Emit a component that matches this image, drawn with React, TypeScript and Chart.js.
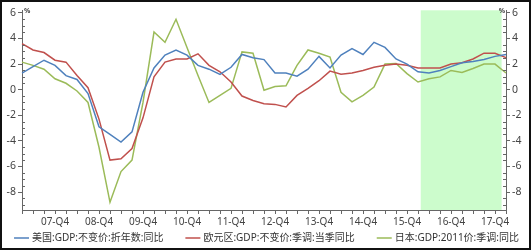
import React, { useEffect, useRef } from 'react';
import { Chart, registerables } from 'chart.js';

Chart.register(...registerables);

const QUARTERS = [
  '07-Q1', '07-Q2', '07-Q3', '07-Q4',
  '08-Q1', '08-Q2', '08-Q3', '08-Q4',
  '09-Q1', '09-Q2', '09-Q3', '09-Q4',
  '10-Q1', '10-Q2', '10-Q3', '10-Q4',
  '11-Q1', '11-Q2', '11-Q3', '11-Q4',
  '12-Q1', '12-Q2', '12-Q3', '12-Q4',
  '13-Q1', '13-Q2', '13-Q3', '13-Q4',
  '14-Q1', '14-Q2', '14-Q3', '14-Q4',
  '15-Q1', '15-Q2', '15-Q3', '15-Q4',
  '16-Q1', '16-Q2', '16-Q3', '16-Q4',
  '17-Q1', '17-Q2', '17-Q3', '17-Q4',
  '18-Q1',
];

const US_GDP = [
  1.3, 1.8, 2.3, 1.9, 1.1, 0.8, -0.3, -2.9, -3.5, -4.1, -3.3, -0.2,
  1.7, 2.7, 3.1, 2.7, 1.9, 1.6, 1.2, 1.75, 2.75, 2.5, 2.35, 1.3,
  1.3, 1.05, 1.6, 2.6, 1.7, 2.7, 3.2, 2.75, 3.7, 3.3, 2.4, 2.0,
  1.4, 1.3, 1.5, 1.8, 2.1, 2.2, 2.35, 2.6, 2.75,
];

const EURO_GDP = [
  3.6, 3.1, 2.9, 2.3, 2.15, 1.1, 0.15, -2.3, -5.5, -5.4, -4.6, -2.2,
  1.0, 2.15, 2.4, 2.4, 2.8, 1.9, 1.4, 0.6, -0.5, -0.85, -1.1, -1.15,
  -1.35, -0.45, 0.1, 0.7, 1.45, 1.2, 1.3, 1.5, 1.75, 1.9, 2.0, 1.9,
  1.7, 1.7, 1.7, 2.0, 2.1, 2.4, 2.85, 2.85, 2.5,
];

const JAPAN_GDP = [
  2.15, 1.9, 1.6, 0.85, 0.5, -0.1, -1.0, -4.5, -8.8, -6.4, -5.5, -1.0,
  4.5, 3.7, 5.5, 3.3, 1.1, -1.0, -0.45, 0.1, 2.95, 2.85, -0.05, 0.25,
  0.3, 1.9, 3.1, 2.85, 2.55, -0.2, -0.95, -0.45, 0.2, 2.0, 2.05, 1.25,
  0.6, 0.85, 1.0, 1.5, 1.35, 1.65, 2.0, 2.0, 1.3,
];

const SERIES_NAMES = [
  '美国:GDP:不变价:折年数:同比',
  '欧元区:GDP:不变价:季调:当季同比',
  '日本:GDP:2011价:季调:同比',
];
const SERIES_COLORS = ['#4f81bd', '#c0504d', '#9bbb59'];

const Y_MAJOR_TICKS = [-8, -6, -4, -2, 0, 2, 4, 6];
const Y_MINOR_TICKS = [
  -9, -8.5, -7.5, -7, -6.5, -5.5, -5, -4.5, -3.5, -3, -2.5, -1.5, -1, -0.5,
  0.5, 1, 1.5, 2.5, 3, 3.5, 4.5, 5, 5.5,
];
const Y_MIN = -9.4;
const Y_MAX = 6.2;
const SHADE_FROM = 36.25;
const SHADE_TO = 43.6;
const UNIT = '%';

const FONT = "'Noto Sans', 'Noto Sans CJK SC', 'DejaVu Sans', sans-serif";
const AXIS_COLOR = '#666';
const TEXT_COLOR = '#444';

const shadePlugin = {
  id: 'shade',
  beforeDatasetsDraw(chart: any) {
    const { ctx, chartArea, scales } = chart;
    const x1 = scales.x.getPixelForValue(SHADE_FROM);
    const x2 = scales.x.getPixelForValue(SHADE_TO);
    ctx.save();
    ctx.fillStyle = '#ccfccc';
    ctx.fillRect(x1, chartArea.top, x2 - x1, chartArea.bottom - chartArea.top);
    ctx.restore();
  },
};

const decorPlugin = {
  id: 'decor',
  afterDraw(chart: any) {
    const { ctx, chartArea, scales } = chart;
    ctx.save();
    // minor ticks inside axes
    ctx.strokeStyle = AXIS_COLOR;
    ctx.lineWidth = 1;
    ctx.beginPath();
    for (const v of Y_MINOR_TICKS) {
      const y = Math.round(scales.y.getPixelForValue(v)) + 0.5;
      ctx.moveTo(chartArea.left, y);
      ctx.lineTo(chartArea.left + 3, y);
      ctx.moveTo(chartArea.right, y);
      ctx.lineTo(chartArea.right - 3, y);
    }
    ctx.stroke();
    // unit labels
    ctx.fillStyle = TEXT_COLOR;
    ctx.font = `bold 7px ${FONT}`;
    ctx.textBaseline = 'middle';
    ctx.textAlign = 'left';
    ctx.fillText(UNIT, chartArea.left + 2, chartArea.top + 1);
    ctx.textAlign = 'right';
    ctx.fillText(UNIT, chartArea.right - 1, chartArea.top + 1);
    // legend
    ctx.font = `10px ${FONT}`;
    ctx.textAlign = 'left';
    const lineW = 15;
    const gap = 3;
    const spacing = 22;
    const items = chart.data.datasets.map((ds: any) => ({
      label: ds.label,
      color: ds.borderColor,
      w: ctx.measureText(ds.label).width,
    }));
    const total =
      items.reduce((s: number, it: any) => s + lineW + gap + it.w, 0) +
      spacing * (items.length - 1);
    let x = (chart.width - total) / 2 + 1;
    const y = chartArea.bottom + 28;
    for (const it of items) {
      ctx.strokeStyle = it.color;
      ctx.lineWidth = 1.5;
      ctx.beginPath();
      ctx.moveTo(x, y);
      ctx.lineTo(x + lineW, y);
      ctx.stroke();
      ctx.fillStyle = '#333';
      ctx.fillText(it.label, x + lineW + gap, y);
      x += lineW + gap + it.w + spacing;
    }
    ctx.restore();
  },
};

export default function App() {
  const ref = useRef<HTMLCanvasElement>(null);

  useEffect(() => {
    if (!ref.current) return;
    const series = [US_GDP, EURO_GDP, JAPAN_GDP];
    const chart = new Chart(ref.current, {
      type: 'line',
      data: {
        labels: QUARTERS,
        datasets: series.map((d, i) => ({
          label: SERIES_NAMES[i],
          data: d,
          borderColor: SERIES_COLORS[i],
          backgroundColor: SERIES_COLORS[i],
          borderWidth: 1.5,
          pointRadius: 0,
          tension: 0,
          fill: false,
        })),
      },
      options: {
        animation: false,
        responsive: false,
        layout: { padding: { top: 8, bottom: 18, left: 0, right: 0 } },
        plugins: {
          legend: { display: false },
          tooltip: { enabled: false },
        },
        scales: {
          x: {
            type: 'category',
            offset: false,
            grid: {
              display: true,
              drawOnChartArea: false,
              drawTicks: true,
              tickLength: 4,
              color: AXIS_COLOR,
            },
            border: { display: true, color: AXIS_COLOR },
            ticks: {
              autoSkip: false,
              maxRotation: 0,
              padding: 2,
              color: TEXT_COLOR,
              font: { family: FONT, size: 10 },
              callback: (_v: any, i: number) =>
                QUARTERS[i].endsWith('Q4') ? QUARTERS[i] : '',
            },
            afterFit: (s: any) => {
              s.height = 20;
            },
          },
          y: {
            position: 'left',
            min: Y_MIN,
            max: Y_MAX,
            afterBuildTicks: (s: any) => {
              s.ticks = Y_MAJOR_TICKS.map((v) => ({ value: v }));
            },
            grid: {
              display: true,
              drawOnChartArea: false,
              tickLength: 4,
              color: AXIS_COLOR,
            },
            border: { display: true, color: AXIS_COLOR },
            ticks: {
              padding: 2,
              color: TEXT_COLOR,
              font: { family: FONT, size: 10.5 },
            },
            afterFit: (s: any) => {
              s.width = 20;
            },
          },
          y2: {
            position: 'right',
            min: Y_MIN,
            max: Y_MAX,
            afterBuildTicks: (s: any) => {
              s.ticks = Y_MAJOR_TICKS.map((v) => ({ value: v }));
            },
            grid: {
              display: true,
              drawOnChartArea: false,
              tickLength: 4,
              color: AXIS_COLOR,
            },
            border: { display: true, color: AXIS_COLOR },
            ticks: {
              padding: 2,
              color: TEXT_COLOR,
              font: { family: FONT, size: 10.5 },
            },
            afterFit: (s: any) => {
              s.width = 23;
            },
          },
        },
      },
      plugins: [shadePlugin, decorPlugin],
    });
    return () => chart.destroy();
  }, []);

  return (
    <div
      style={{
        position: 'absolute',
        left: 0,
        top: 0,
        width: 531,
        height: 250,
        boxSizing: 'border-box',
        border: '2px solid #111',
        background: '#fff',
      }}
    >
      <canvas ref={ref} width={527} height={246} style={{ display: 'block' }} />
    </div>
  );
}
